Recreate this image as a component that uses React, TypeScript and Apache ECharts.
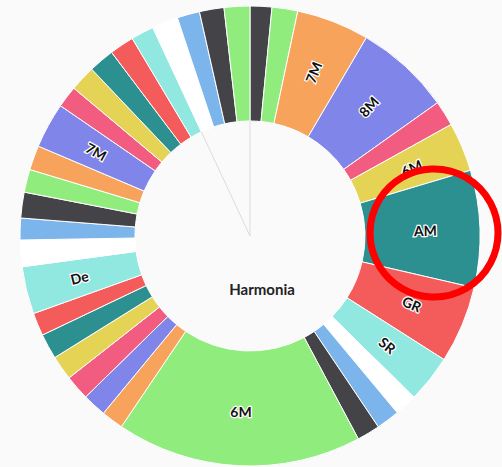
import React, { useEffect, useRef } from "react";
import * as echarts from "echarts";

// Slice values (degrees of arc), clockwise from 12 o'clock
const sliceValues: number[] = [
  5.5, 6.5, 18.4, 24.2, 6.4, 12.4, 29.6, 19.5, 12, 5.7, 5.9,
  5.8, 62.1, 5.6, 6, 6.3, 6.2, 6.4, 5.8, 12, 6.7, 5.5,
  6.5, 5.8, 6.2, 11.5, 5.5, 6.5, 6.5, 6.2, 5.8, 6.6, 5.7,
  6.2, 6.5,
];

const sliceLabels: string[] = [
  "", "", "7M", "8M", "", "6M", "AM", "GR", "SR", "", "",
  "", "6M", "", "", "", "", "", "", "De", "", "",
  "", "", "", "7M", "", "", "", "", "", "", "",
  "", "",
];

const centerTitle = "Harmonia";

const PALETTE = [
  "#434348", "#90ed7d", "#f7a35c", "#8085e9", "#f15c80", "#e4d354",
  "#2b908f", "#f45b5b", "#91e8e1", "#ffffff", "#7cb5ec",
];

// index of the large bottom slice whose label stays horizontal
const HORIZONTAL_LABEL_INDEX = 12;

export default function App() {
  const ref = useRef<HTMLDivElement>(null);

  useEffect(() => {
    if (!ref.current) return;
    const chart = echarts.init(ref.current, undefined, { renderer: "svg" });

    const cx = 250;
    const cy = 236;
    const rIn = 115;
    const rOut = 230;
    const total = sliceValues.reduce((a, b) => a + b, 0);
    const angleAfter = (k: number) =>
      (sliceValues.slice(0, k).reduce((a, b) => a + b, 0) / total) * Math.PI * 2;
    const guide = (k: number) => {
      const a = angleAfter(k);
      return {
        type: "line",
        shape: { x1: cx, y1: cy, x2: cx + rIn * Math.sin(a), y2: cy - rIn * Math.cos(a) },
        style: { stroke: "#dcdcdc", lineWidth: 1 },
        z: 10,
      };
    };

    chart.setOption({
      animation: false,
      backgroundColor: "#fafafa",
      series: [
        {
          type: "pie",
          center: [cx, cy],
          radius: [rIn, rOut],
          startAngle: 90,
          clockwise: true,
          avoidLabelOverlap: false,
          emphasis: { disabled: true },
          itemStyle: { borderColor: "#ffffff", borderWidth: 1 },
          labelLine: { show: false },
          label: {
            show: true,
            position: "inside",
            rotate: "radial",
            formatter: "{b}",
            color: "#111111",
            fontFamily: "Lato",
            fontSize: 14,
            fontWeight: "bold",
            textBorderColor: "#ffffff",
            textBorderWidth: 2.5,
          },
          data: sliceValues.map((v, i) => ({
            value: v,
            name: sliceLabels[i],
            itemStyle: { color: PALETTE[i % PALETTE.length] },
            label:
              i === HORIZONTAL_LABEL_INDEX
                ? { show: sliceLabels[i] !== "", rotate: 0 }
                : { show: sliceLabels[i] !== "" },
          })),
        },
      ],
      graphic: [
        guide(0),
        guide(31),
        {
          type: "text",
          x: 262,
          y: 289,
          style: {
            text: centerTitle,
            fill: "#222222",
            font: "bold 15px Lato",
            textAlign: "center",
            textVerticalAlign: "middle",
          },
          z: 10,
        },
        {
          type: "circle",
          shape: { cx: 434, cy: 233, r: 64 },
          style: { fill: "none", stroke: "#ff0000", lineWidth: 7 },
          z: 20,
        },
      ],
    });

    return () => chart.dispose();
  }, []);

  return (
    <div
      ref={ref}
      style={{ position: "absolute", left: 0, top: 0, width: 502, height: 467 }}
    />
  );
}
